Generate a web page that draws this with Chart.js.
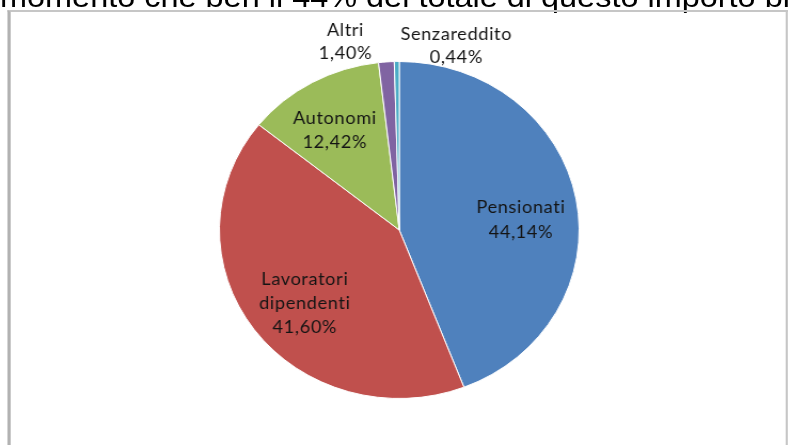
<!DOCTYPE html>
<html>
<head>
<meta charset="utf-8">
<script src="https://cdn.jsdelivr.net/npm/chart.js@4.4.1/dist/chart.umd.min.js"></script>
<style>
  html, body { margin: 0; padding: 0; background: #fff; overflow: hidden; }
  /* whole page is drawn a little wider than tall, as in the printed page */
  #page { position: relative; width: 741px; height: 445px; transform: scaleX(1.0675); transform-origin: 0 0; }
  #intro { position: absolute; left: 0; top: -19px; font: 30.4px/30px "Liberation Sans", Arial, sans-serif; color: #000; white-space: nowrap; }
  #frame { position: absolute; left: 7px; top: 10px; width: 726px; height: 440px;
           border: 2px solid #c6c6c6; border-left: 3px solid #b2b2b2; border-bottom: none; }
  #chartBox { position: absolute; left: 10px; top: 12px; width: 726px; height: 433px; }
</style>
</head>
<body>
<div id="page">
  <div id="intro">momento che ben il 44% del totale di questo importo bi</div>
  <div id="frame"></div>
  <div id="chartBox"><canvas id="myChart"></canvas></div>
</div>
<script>
'use strict';

// share of the total by category (percent)
var categories = ['Pensionati', ['Lavoratori', 'dipendenti'], 'Autonomi', 'Altri', 'Senzareddito'];
var shares = [44.14, 41.60, 12.42, 1.40, 0.44];
var sliceColors = ['#4F81BD', '#C0504D', '#9BBB59', '#8064A2', '#4BACC6'];

// where each label sits: fraction of the radius along the slice middle, then a small nudge
var labelPlacement = [
  { ratio: 0.67, dx: 3, dy: 11, lineHeight: 25 },
  { ratio: 0.68, dx: 4, dy: 6, lineHeight: 24 },
  { ratio: 0.69, dx: -4, dy: 2, lineHeight: 24 },
  { ratio: 1.11, dx: -37, dy: -1.5, lineHeight: 23 },
  { ratio: 1.09, dx: 56, dy: 0, lineHeight: 23 }
];

function formatPct(v) {
  return v.toFixed(2).replace('.', ',') + '%';
}

var sliceLabels = {
  id: 'sliceLabels',
  afterDatasetsDraw: function (chart) {
    var ctx = chart.ctx;
    var meta = chart.getDatasetMeta(0);
    ctx.save();
    ctx.font = '17px Lato, "Open Sans", sans-serif';
    ctx.fillStyle = '#141414';
    ctx.textAlign = 'center';
    ctx.textBaseline = 'middle';
    ctx.letterSpacing = '0.6px';
    meta.data.forEach(function (arc, i) {
      var p = arc.getProps(['x', 'y', 'startAngle', 'endAngle', 'outerRadius'], true);
      var mid = (p.startAngle + p.endAngle) / 2;
      var place = labelPlacement[i];
      var r = p.outerRadius * place.ratio;
      var cx = p.x + Math.cos(mid) * r + place.dx;
      var cy = p.y + Math.sin(mid) * r + place.dy;
      var lines = [].concat(categories[i], formatPct(shares[i]));
      for (var k = 0; k < lines.length; k++) {
        ctx.fillText(lines[k], cx, cy + (k - (lines.length - 1) / 2) * place.lineHeight);
      }
    });
    ctx.restore();
  }
};

var myChart = new Chart(document.getElementById('myChart'), {
  type: 'pie',
  data: {
    labels: categories,
    datasets: [{
      data: shares,
      backgroundColor: sliceColors,
      borderColor: '#ffffff',
      borderWidth: 1
    }]
  },
  options: {
    responsive: true,
    maintainAspectRatio: false,
    animation: false,
    layout: { padding: { left: 2, right: 0, top: 49, bottom: 46 } },
    plugins: {
      legend: { display: false },
      tooltip: { enabled: false }
    }
  },
  plugins: [sliceLabels]
});
</script>
</body>
</html>
